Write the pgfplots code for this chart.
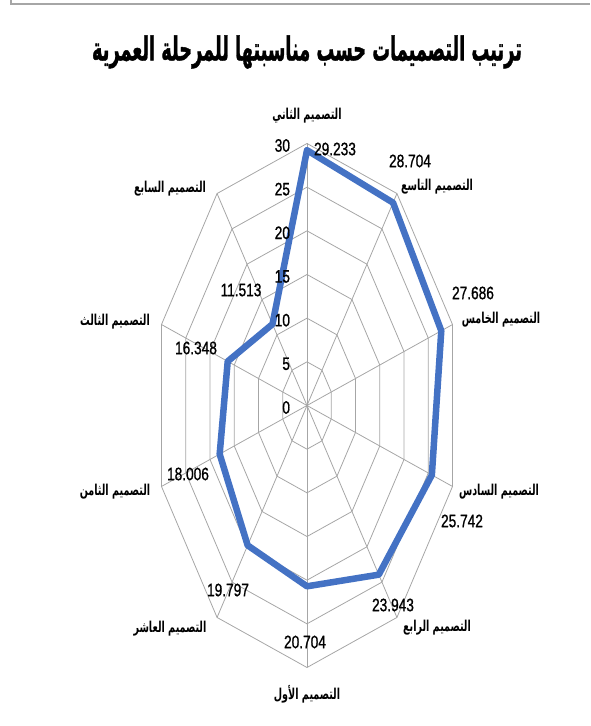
\documentclass[border=0pt]{standalone}
\usepackage{pgfplots}
\pgfplotsset{compat=1.18}
\usepackage{fontspec}
\usepackage{graphicx}
\TeXXeTstate=1
\setmainfont{Liberation Sans}
\newfontfamily\arabicfont[Script=Arabic,FakeStretch=0.64]{DejaVu Sans}
\newfontfamily\arabictitle[Script=Arabic,FakeBold=1.5]{DejaVu Sans Bold}
\newfontfamily\numfont[FakeStretch=0.76,FakeBold=1]{Liberation Sans}
\definecolor{serblue}{HTML}{4472C4}
\definecolor{gridgray}{HTML}{A6A6A6}
\newcommand{\ar}[1]{{\arabicfont\bfseries\fontsize{15}{15}\selectfont\beginR #1\endR}}
\newcommand{\nm}[1]{{\numfont\fontsize{18}{18}\selectfont #1}}
\begin{document}
\begin{tikzpicture}[x=1pt,y=1pt]
\path[use as bounding box] (0,0) rectangle (590,726);
\coordinate (C) at (307,320.5);
\draw[gray!70, line width=1.5pt] (11,726) -- (11,722) -- (590,722);
\node at (307,674) {\resizebox{430pt}{25pt}{\arabictitle\beginR ترتيب التصميمات حسب مناسبتها للمرحلة العمرية\endR}};
\begin{axis}[at={(C)}, anchor=center, scale only axis,
  width=306pt, height=524pt, xmin=-30, xmax=30, ymin=-30, ymax=30,
  hide axis, clip=false]
\pgfplotsinvokeforeach{5,10,15,20,25,30}{
  \addplot[gridgray, line width=0.8pt, data cs=polar, mark=none] coordinates {(90,#1) (54,#1) (18,#1) (-18,#1) (-54,#1) (-90,#1) (-126,#1) (-162,#1) (162,#1) (126,#1) (90,#1)};
}
\pgfplotsinvokeforeach{90,54,18,-18,-54,-90,-126,-162,162,126}{
  \addplot[gridgray, line width=0.8pt, data cs=polar, mark=none] coordinates {(#1,0) (#1,30)};
}
\addplot[serblue, line width=6.5pt, line join=round, line cap=round, data cs=polar, mark=none] table {
angle value
90 29.233
54 28.704
18 27.686
-18 25.742
-54 23.943
-90 20.704
-126 19.797
-162 18.006
162 16.348
126 11.513
90 29.233
};
\pgfplotsinvokeforeach{0,5,10,15,20,25,30}{
  \node[anchor=east, inner sep=0pt, yshift=-2pt] at (axis cs:-3.3,#1) {\nm{#1}};
}
\end{axis}
% category labels
\node at (307,610) {\ar{التصميم الثاني}};
\node at (437,539) {\ar{التصميم التاسع}};
\node at (501,406) {\ar{التصميم الخامس}};
\node at (499,234) {\ar{التصميم السادس}};
\node at (437,98) {\ar{التصميم الرابع}};
\node at (307,32) {\ar{التصميم الأول}};
\node at (170,97) {\ar{التصميم العاشر}};
\node at (115,234) {\ar{التصميم الثامن}};
\node at (115,404) {\ar{التصميم الثالث}};
\node at (170,537) {\ar{التصميم السابع}};
% value labels
\node at (335,577) {\nm{29.233}};
\node at (410,565) {\nm{28.704}};
\node at (473,433) {\nm{27.686}};
\node at (462,205) {\nm{25.742}};
\node at (393,121) {\nm{23.943}};
\node at (305,84) {\nm{20.704}};
\node at (228,136) {\nm{19.797}};
\node at (188,252) {\nm{18.006}};
\node at (196,378) {\nm{16.348}};
\node at (241,436) {\nm{11.513}};
\end{tikzpicture}
\end{document}
